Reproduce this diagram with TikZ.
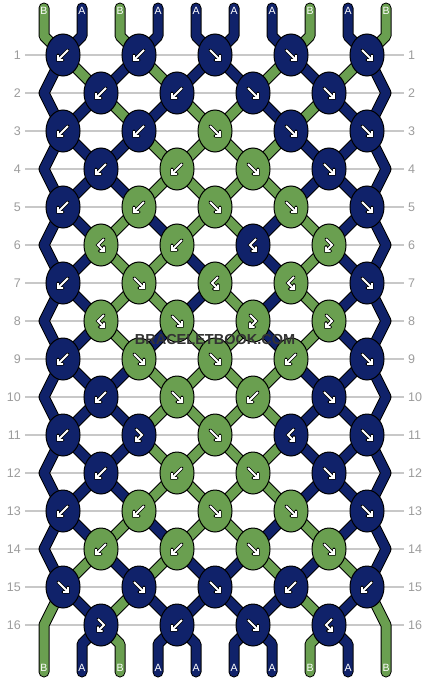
\documentclass[tikz,border=0pt]{standalone}
\usepackage{fontspec}
\setmainfont{Liberation Sans}
\usetikzlibrary{shapes.geometric,backgrounds}

\definecolor{thA}{HTML}{10226A}
\definecolor{thB}{HTML}{6A9F50}
\definecolor{rowgray}{HTML}{C8C8C8}
\definecolor{numgray}{HTML}{9C9C9C}
\definecolor{markgray}{HTML}{333333}

\newcommand{\knotglyph}[1]{%
  \draw[black, line width=3.4pt, line cap=round, line join=miter] #1;
  \draw[white, line width=1.8pt, line join=miter] #1;}

\tikzset{
  knot/.style={ellipse, draw=black, line width=1pt, minimum width=34pt,
    minimum height=42pt, inner sep=0pt},
  kF/.style={path picture={\knotglyph{([shift={(-5pt,5pt)}]path picture bounding box.center)
    -- ++(10pt,-10pt) ++(-5pt,0pt) -- ++(5pt,0pt) -- ++(0pt,5pt)}}},
  kB/.style={path picture={\knotglyph{([shift={(5pt,5pt)}]path picture bounding box.center)
    -- ++(-10pt,-10pt) ++(5pt,0pt) -- ++(-5pt,0pt) -- ++(0pt,5pt)}}},
  kFB/.style={path picture={\knotglyph{([shift={(-3pt,6pt)}]path picture bounding box.center)
    -- ++(6pt,-6pt) -- ++(-6pt,-6pt) ++(0pt,4.5pt) -- ++(0pt,-4.5pt) -- ++(4.5pt,0pt)}}},
  kBF/.style={path picture={\knotglyph{([shift={(3pt,6pt)}]path picture bounding box.center)
    -- ++(-6pt,-6pt) -- ++(6pt,-6pt) ++(0pt,4.5pt) -- ++(0pt,-4.5pt) -- ++(-4.5pt,0pt)}}},
  thread/.style={draw=black, line width=1pt, double=#1, double distance=9pt,
    line cap=round, line join=round},
  rowline/.style={rowgray, line width=1.2pt},
  rowlabel/.style={text=numgray, font=\fontsize{12.5}{14}\selectfont, inner sep=4pt},
  stublabel/.style={text=white, font=\fontsize{10.5}{12}\selectfont, inner sep=0pt},
  watermark/.style={text=markgray, font=\fontsize{14.5}{16}\selectfont\bfseries}
}

\begin{document}
\begin{tikzpicture}[x=1pt, y=-1pt]
\useasboundingbox (0,0) rectangle (430,680);

% row numbers
\foreach \r in {1,...,16} {
  \node[rowlabel, anchor=east] (ln\r) at (25,{17+38*\r}) {\r};
  \node[rowlabel, anchor=west] (rn\r) at (404,{17+38*\r}) {\r};
}

% thread ends and edge turns
\foreach \p in {1,...,10} {
  \coordinate (t\p) at ({6+38*\p},8);
  \coordinate (tb\p) at ({6+38*\p},36);
  \coordinate (bb\p) at ({6+38*\p},644);
  \coordinate (b\p) at ({6+38*\p},672);
}
\foreach \r in {2,4,...,16} {
  \coordinate (L\r) at (44,{17+38*\r});
  \coordinate (R\r) at (386,{17+38*\r});
}

% knots
\foreach \r/\knots in {
  1/{kB/A,kB/A,kF/A,kF/A,kF/A},
  2/{kB/A,kB/A,kF/A,kF/A},
  3/{kB/A,kB/A,kF/B,kF/A,kF/A},
  4/{kB/A,kB/B,kF/B,kF/A},
  5/{kB/A,kB/B,kF/B,kF/B,kF/A},
  6/{kBF/B,kB/B,kBF/A,kFB/B},
  7/{kB/A,kF/B,kBF/B,kBF/B,kF/A},
  8/{kBF/B,kF/B,kFB/B,kFB/B},
  9/{kB/A,kF/B,kF/B,kB/B,kF/A},
  10/{kB/A,kF/B,kB/B,kF/A},
  11/{kB/A,kFB/A,kF/B,kBF/A,kF/A},
  12/{kB/A,kB/B,kF/B,kF/A},
  13/{kB/A,kB/B,kF/B,kF/B,kF/A},
  14/{kB/B,kB/B,kF/B,kF/B},
  15/{kF/A,kF/A,kF/A,kB/A,kB/A},
  16/{kFB/A,kB/A,kF/A,kBF/A}} {
  \foreach \t/\c [count=\kk] in \knots {
    \pgfmathsetmacro\x{76*\kk-13+38*(1-mod(\r,2))}
    \node[knot, \t, fill=th\c] (k\r-\kk) at (\x,{17+38*\r}) {};
  }
}

\begin{pgfonlayer}{background}
\fill[white] (0,0) rectangle (430,680);
\foreach \r in {1,...,16} \draw[rowline] (ln\r) -- (rn\r);

% threads from the top
\foreach \c [count=\p] in {B,A,B,A,A,A,A,B,A,B} {
  \pgfmathtruncatemacro\up{(\p+1)/2}
  \draw[thread=th\c] (t\p) -- (tb\p) -- (k1-\up.center);
}

% threads between rows
\foreach \r/\cols in {
  1/{B,A,B,A,A,B,A,B},
  2/{A,B,A,B,B,A,B,A},
  3/{A,A,B,B,B,B,A,A},
  4/{A,A,B,B,B,B,A,A},
  5/{A,B,A,B,B,A,B,A},
  6/{A,B,B,A,B,A,B,A},
  7/{A,B,B,A,B,A,B,A},
  8/{A,B,A,B,B,A,B,A},
  9/{A,A,B,B,B,B,A,A},
  10/{A,A,B,B,B,B,A,A},
  11/{A,A,B,B,B,B,A,A},
  12/{A,A,B,B,B,B,A,A},
  13/{A,B,A,B,B,A,B,A},
  14/{B,A,B,A,A,B,A,B},
  15/{A,B,A,A,A,A,B,A}} {
  \pgfmathtruncatemacro\n{\r+1}
  \foreach \c [count=\q] in \cols {
    \pgfmathtruncatemacro\p{\q+1}
    \pgfmathtruncatemacro\up{(\p+1)/2}
    \pgfmathtruncatemacro\dn{\p/2}
    \ifodd\r\relax
      \draw[thread=th\c] (k\r-\up.center) -- (k\n-\dn.center);
    \else
      \draw[thread=th\c] (k\r-\dn.center) -- (k\n-\up.center);
    \fi
  }
}

% outer threads
\foreach \r in {1,3,...,13} {
  \pgfmathtruncatemacro\n{\r+1}
  \pgfmathtruncatemacro\nn{\r+2}
  \draw[thread=thA] (k\r-1.center) -- (L\n) -- (k\nn-1.center);
  \draw[thread=thA] (k\r-5.center) -- (R\n) -- (k\nn-5.center);
}
\draw[thread=thB] (k15-1.center) -- (L16) -- (b1);
\draw[thread=thB] (k15-5.center) -- (R16) -- (b10);

% threads to the bottom
\foreach \c [count=\q] in {A,B,A,A,A,A,B,A} {
  \pgfmathtruncatemacro\p{\q+1}
  \pgfmathtruncatemacro\dn{\p/2}
  \draw[thread=th\c] (k16-\dn.center) -- (bb\p) -- (b\p);
}
\end{pgfonlayer}

% thread names
\foreach \c [count=\p] in {B,A,B,A,A,A,A,B,A,B} {
  \node[stublabel] (lt\p) at ({6+38*\p},11) {\c};
  \node[stublabel] (lb\p) at ({6+38*\p},668) {\c};
}

\node[watermark] (mark) at (215,340) {BRACELETBOOK.COM};
\end{tikzpicture}
\end{document}
